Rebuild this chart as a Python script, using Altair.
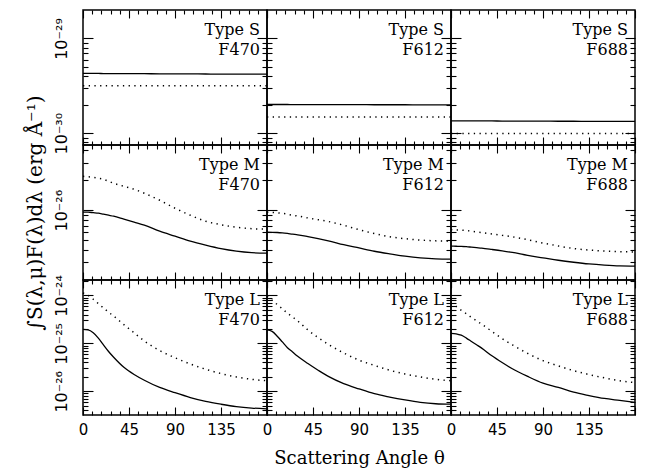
import altair as alt
import pandas as pd

# ---------------- data (log10 of the integrated signal) ----------------
ANGLE = [0, 5, 10, 15, 20, 25, 30, 40, 50, 60, 75, 90, 105, 120, 135, 150, 165, 180]

S_F470_SOLID = [-29.369, -29.369, -29.369, -29.369, -29.370, -29.370, -29.370, -29.371, -29.371,
                -29.372, -29.373, -29.373, -29.374, -29.375, -29.376, -29.376, -29.377, -29.377]
S_F470_DOT = [-29.498] * 18
S_F612_SOLID = [-29.697, -29.697, -29.697, -29.697, -29.697, -29.698, -29.698, -29.698, -29.698,
                -29.699, -29.699, -29.699, -29.700, -29.700, -29.700, -29.701, -29.701, -29.701]
S_F612_DOT = [-29.830] * 18
S_F688_SOLID = [-29.870, -29.870, -29.870, -29.870, -29.871, -29.871, -29.871, -29.871, -29.872,
                -29.872, -29.873, -29.873, -29.874, -29.874, -29.875, -29.875, -29.876, -29.876]
S_F688_DOT = [-30.004] * 18

M_F470_SOLID = [-26.02, -26.02, -26.025, -26.03, -26.04, -26.05, -26.06, -26.09, -26.12,
                -26.15, -26.21, -26.26, -26.31, -26.35, -26.385, -26.41, -26.425, -26.43]
M_F470_DOT = [-25.66, -25.665, -25.67, -25.68, -25.69, -25.71, -25.73, -25.76, -25.79,
              -25.83, -25.90, -25.98, -26.05, -26.11, -26.145, -26.17, -26.185, -26.19]
M_F612_SOLID = [-26.22, -26.221, -26.223, -26.227, -26.233, -26.24, -26.246, -26.264, -26.284,
                -26.306, -26.345, -26.378, -26.411, -26.437, -26.46, -26.477, -26.487, -26.49]
M_F612_DOT = [-26.02, -26.023, -26.026, -26.031, -26.04, -26.05, -26.058, -26.077, -26.095,
              -26.113, -26.151, -26.195, -26.233, -26.266, -26.285, -26.299, -26.307, -26.31]
M_F688_SOLID = [-26.36, -26.361, -26.362, -26.365, -26.37, -26.375, -26.38, -26.393, -26.407,
                -26.423, -26.453, -26.477, -26.501, -26.521, -26.538, -26.55, -26.558, -26.56]
M_F688_DOT = [-26.195, -26.197, -26.199, -26.203, -26.21, -26.217, -26.224, -26.238, -26.252,
              -26.266, -26.295, -26.329, -26.358, -26.384, -26.399, -26.409, -26.415, -26.418]

L_F470_SOLID = [-24.71, -24.72, -24.78, -24.89, -25.03, -25.17, -25.29, -25.50, -25.65,
                -25.77, -25.92, -26.03, -26.13, -26.21, -26.27, -26.32, -26.35, -26.365]
L_F470_DOT = [-23.95, -24.0, -24.08, -24.17, -24.26, -24.35, -24.43, -24.61, -24.78,
              -24.95, -25.15, -25.30, -25.43, -25.54, -25.63, -25.70, -25.75, -25.78]
L_F612_SOLID = [-24.72, -24.75, -24.85, -24.97, -25.09, -25.18, -25.27, -25.42, -25.56,
                -25.69, -25.84, -25.95, -26.05, -26.12, -26.18, -26.23, -26.26, -26.27]
L_F612_DOT = [-24.02, -24.10, -24.19, -24.28, -24.37, -24.45, -24.53, -24.72, -24.88,
              -25.02, -25.20, -25.35, -25.46, -25.56, -25.64, -25.70, -25.75, -25.78]
L_F688_SOLID = [-24.79, -24.80, -24.83, -24.89, -24.96, -25.03, -25.10, -25.26, -25.40,
                -25.53, -25.69, -25.83, -25.92, -26.02, -26.09, -26.15, -26.19, -26.23]
L_F688_DOT = [-24.16, -24.23, -24.31, -24.38, -24.46, -24.53, -24.60, -24.75, -24.90,
              -25.03, -25.21, -25.36, -25.47, -25.57, -25.65, -25.72, -25.78, -25.82]

TYPES = ["S", "M", "L"]
FILTERS = ["F470", "F612", "F688"]
SERIES = {
    ("S", "F470"): (S_F470_SOLID, S_F470_DOT),
    ("S", "F612"): (S_F612_SOLID, S_F612_DOT),
    ("S", "F688"): (S_F688_SOLID, S_F688_DOT),
    ("M", "F470"): (M_F470_SOLID, M_F470_DOT),
    ("M", "F612"): (M_F612_SOLID, M_F612_DOT),
    ("M", "F688"): (M_F688_SOLID, M_F688_DOT),
    ("L", "F470"): (L_F470_SOLID, L_F470_DOT),
    ("L", "F612"): (L_F612_SOLID, L_F612_DOT),
    ("L", "F688"): (L_F688_SOLID, L_F688_DOT),
}

Y_DOMAIN = {"S": [7.5e-31, 2.0e-29], "M": [2.0e-27, 4.5e-26], "L": [3.2e-27, 2.1e-24]}
Y_MAJOR_EXP = {"S": [-30, -29], "M": [-26], "L": [-26, -25, -24]}
X_MAJOR = [0, 45, 90, 135, 180]
X_MINOR = [9, 18, 27, 36, 54, 63, 72, 81, 99, 108, 117, 126, 144, 153, 162, 171]

X_TITLE = "Scattering Angle θ"
Y_TITLE = "∫S(λ,μ)F(λ)dλ (erg Å⁻¹)"

# ---------------- build table ----------------
rows = []
for (t, f), (solid, dot) in SERIES.items():
    for name, vals in (("solid", solid), ("dotted", dot)):
        for a, lv in zip(ANGLE, vals):
            rows.append({"type": t, "filter": f, "series": name, "angle": a, "value": 10 ** lv})
df = pd.DataFrame(rows)

SUP = str.maketrans("-0123456789", "⁻⁰¹²³⁴⁵⁶⁷⁸⁹")

W, H = 184, 135
TICK_FONT = "DejaVu Sans"
TEXT_FONT = "DejaVu Serif"


def y_minor(t):
    lo, hi = Y_DOMAIN[t]
    out = []
    for e in range(-32, -22):
        for m in range(2, 10):
            v = m * 10.0 ** e
            if lo < v < hi * 0.999:
                out.append(v)
    return out


def y_label_expr(t):
    parts = [f"abs(log(datum.value)/LN10 - ({e})) < 0.01 ? '10{str(e).translate(SUP)}'"
             for e in Y_MAJOR_EXP[t]]
    return " : ".join(parts) + " : ''"


def panel(t, f, r, c):
    sub = df[(df["type"] == t) & (df["filter"] == f)]
    xs = alt.Scale(domain=[0, 180], nice=False, zero=False)
    ys = alt.Scale(type="log", domain=Y_DOMAIN[t], nice=False)
    common = dict(domain=False, grid=False, tickColor="black", tickWidth=1.1)
    majors = [10.0 ** e for e in Y_MAJOR_EXP[t]]

    xb_kw = dict(orient="bottom", values=X_MAJOR, tickSize=8, offset=-8, **common)
    if r == 2:
        xb_kw.update(labels=True, labelExpr="datum.value == 180 ? '' : datum.label",
                     labelFont=TICK_FONT, labelFontSize=15, labelColor="black",
                     labelPadding=7, labelFlush=False, labelOverlap=False)
    else:
        xb_kw.update(labels=False)
    if r == 2 and c == 1:
        xb_kw.update(title=X_TITLE, titleFont=TEXT_FONT, titleFontSize=18,
                     titleFontWeight="normal", titleColor="black", titlePadding=12)
    xb_major = alt.Axis(**xb_kw)
    xb_minor = alt.Axis(orient="bottom", values=X_MINOR, tickSize=4, offset=-4, labels=False, **common)
    xt_major = alt.Axis(orient="top", values=X_MAJOR, tickSize=8, offset=-8, labels=False, **common)
    xt_minor = alt.Axis(orient="top", values=X_MINOR, tickSize=4, offset=-4, labels=False, **common)

    yl_kw = dict(orient="left", values=majors, tickSize=10, offset=-10, **common)
    if c == 0:
        yl_kw.update(labels=True, labelExpr=y_label_expr(t), labelAngle=270,
                     labelAlign="center", labelBaseline="alphabetic",
                     labelFont=TICK_FONT, labelFontSize=16, labelColor="black",
                     labelPadding=17, labelFlush=False, labelOverlap=False)
    else:
        yl_kw.update(labels=False)
    if c == 0 and r == 1:
        yl_kw.update(title=Y_TITLE, titleFont=TEXT_FONT, titleFontSize=20,
                     titleFontWeight="normal", titleColor="black", titlePadding=8)
    yl_major = alt.Axis(**yl_kw)
    yl_minor = alt.Axis(orient="left", values=y_minor(t), tickSize=5, offset=-5, labels=False, **common)
    yr_major = alt.Axis(orient="right", values=majors, tickSize=10, offset=-10, labels=False, **common)
    yr_minor = alt.Axis(orient="right", values=y_minor(t), tickSize=5, offset=-5, labels=False, **common)

    def X(ax, title=None):
        return alt.X("angle:Q", scale=xs, axis=ax, title=title)

    def Y(ax, title=None):
        return alt.Y("value:Q", scale=ys, axis=ax, title=title)

    base = alt.Chart(sub)
    l1 = base.transform_filter("datum.series == 'solid'").mark_line(
        color="black", strokeWidth=1.3, interpolate="monotone"
    ).encode(
        x=X(xb_major, X_TITLE if (r == 2 and c == 1) else None),
        y=Y(yl_major, Y_TITLE if (r == 1 and c == 0) else None),
    )
    l2 = base.transform_filter("datum.series == 'dotted'").mark_line(
        color="black", strokeWidth=1.5, strokeDash=[1.3, 4.4], interpolate="monotone"
    ).encode(x=X(xb_minor), y=Y(yl_minor))
    l3 = base.mark_line(opacity=0).encode(x=X(xt_major), y=Y(yr_major), detail="series:N")
    l4 = base.mark_line(opacity=0).encode(x=X(xt_minor), y=Y(yr_minor), detail="series:N")
    txt = alt.Chart(pd.DataFrame({"lab": [f"Type {t}\n{f}"]})).mark_text(
        align="right", baseline="alphabetic", lineBreak="\n", lineHeight=20,
        font=TEXT_FONT, fontSize=16, color="black"
    ).encode(x=alt.value(W - 7), y=alt.value(25), text="lab:N")

    return alt.layer(l1, l2, l3, l4, txt).resolve_axis(
        x="independent", y="independent"
    ).properties(width=W, height=H)


panels = [panel(t, f, r, c) for r, t in enumerate(TYPES) for c, f in enumerate(FILTERS)]

chart = alt.ConcatChart(
    concat=panels, columns=3, spacing=0, bounds="flush"
).properties(
    padding={"left": 16, "top": 0, "right": 5, "bottom": 5}
).configure_view(stroke="black", strokeWidth=1.5)

chart.save("out.html", embed_options={"renderer": "svg", "actions": False})
